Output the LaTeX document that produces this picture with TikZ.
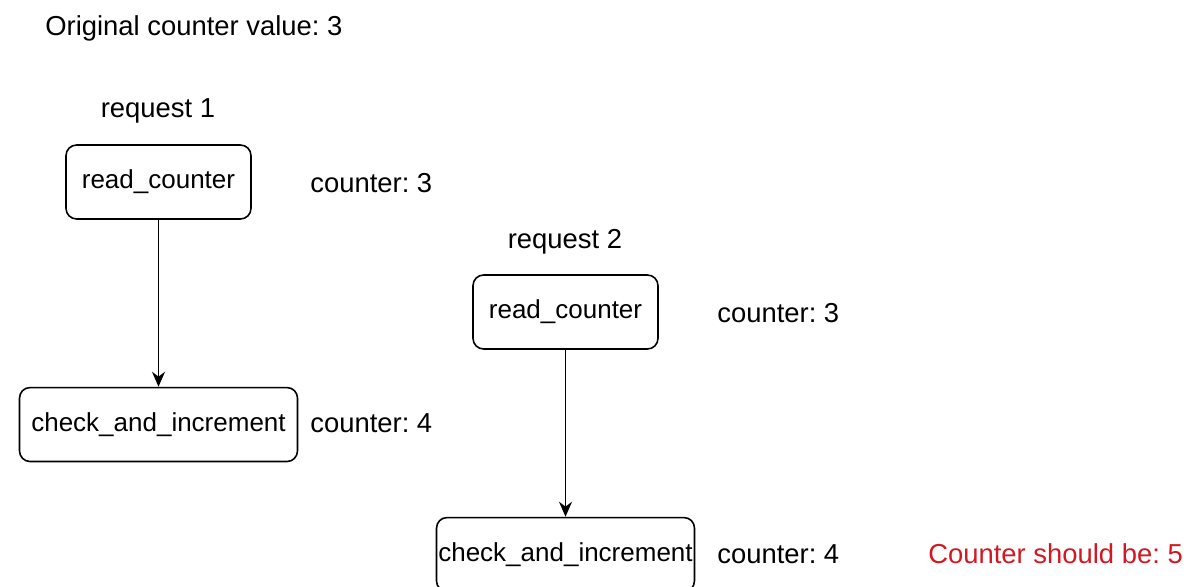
\documentclass[tikz,border=0pt]{standalone}
\usepackage{fontspec}
\setmainfont{Liberation Sans}
\usepackage{xcolor}
\usetikzlibrary{arrows.meta, positioning}
\definecolor{alertred}{RGB}{210, 25, 35}
\frenchspacing

\begin{document}
\begin{tikzpicture}[
			x=0.02cm, y=-0.02cm,
			node distance=3.34cm,
			stepbox/.style={rectangle, draw, line width=0.9pt, rounded corners=6pt, minimum height=1.48cm, inner xsep=0pt, align=center, font=\fontsize{14.8}{17}\selectfont},
			label/.style={inner sep=0pt, anchor=west, font=\fontsize{15.6}{18}\selectfont},
			arrow/.style={-{Stealth[length=3mm, width=2.6mm]}, line width=0.9pt}
		]
		\useasboundingbox (0,0) rectangle (1192,587);
		% Title
		\node[label] (title) at (45,28) {Original counter value: 3};
		
		% Request 1
		\node[stepbox, minimum width=3.7cm] (read1) at (158.5,182) {read\_counter};
		\node[label, anchor=center] (req1) at (158,111) {request 1};
		\node[stepbox, minimum width=5.56cm, below=of read1] (check1) {check\_and\_increment};
		\node[label] (val1) at (310,183) {counter: 3};
		\node[label] (val2) at (310,423) {counter: 4};
		
		% Request 2
		\node[stepbox, minimum width=3.7cm] (read2) at (565.5,312) {read\_counter};
		\node[label, anchor=center] (req2) at (565,242) {request 2};
		\node[stepbox, minimum width=5.16cm, below=of read2] (check2) {check\_and\_increment};
		\node[label] (val3) at (717,313) {counter: 3};
		\node[label] (val4) at (717,554) {counter: 4};
		\node[label, text=alertred] (expect) at (928,554) {Counter should be: 5};
		
		% Arrows
		\draw[arrow] (read1) -- (check1);
		\draw[arrow] (read2) -- (check2);
		\end{tikzpicture}
\end{document}
